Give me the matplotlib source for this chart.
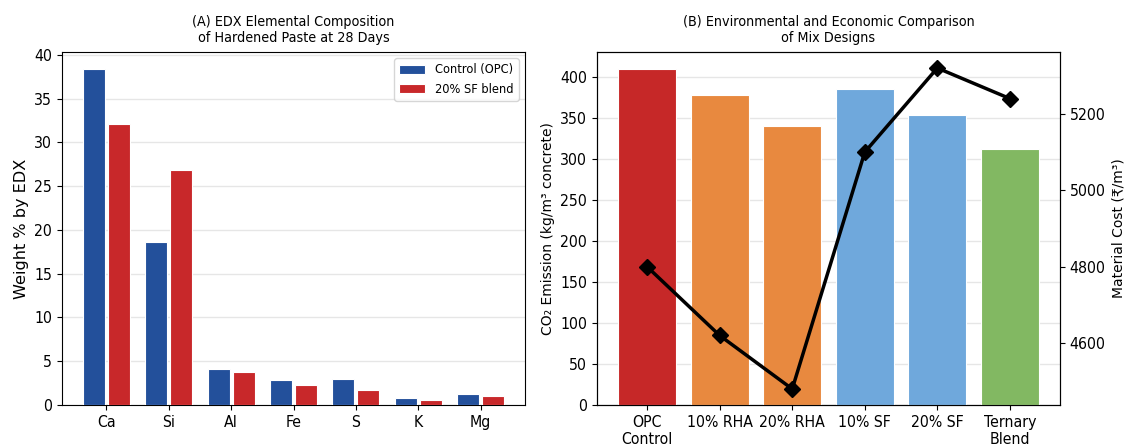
import numpy as np
import matplotlib.pyplot as plt
import matplotlib as mpl

# reference text looks slightly narrow, use the condensed DejaVu face
mpl.rcParams['font.stretch'] = 'condensed'

# Panel A: EDX composition (wt %)
elements = ['Ca', 'Si', 'Al', 'Fe', 'S', 'K', 'Mg']
control_opc = [38.4, 18.6, 4.1, 2.8, 3.0, 0.8, 1.3]
sf_blend = [32.1, 26.8, 3.8, 2.3, 1.7, 0.6, 1.0]

# Panel B: CO2 and cost per mix
mixes = ['OPC\nControl', '10% RHA', '20% RHA', '10% SF', '20% SF', 'Ternary\nBlend']
co2 = [410, 378, 340, 385, 354, 312]
cost = [4800, 4620, 4480, 5100, 5320, 5240]
mix_colors = ['#c62828', '#e8893f', '#e8893f', '#6fa8dc', '#6fa8dc', '#82b862']

W, H = 1126, 446
fig = plt.figure(figsize=(W/100, H/100), dpi=100)
ax1 = fig.add_axes([62/W, 41/H, 463/W, 353/H])
ax2 = fig.add_axes([597/W, 41/H, 463/W, 353/H])

x = np.arange(len(elements))
ax1.bar(x - 0.2, control_opc, 0.35, color='#23509b', edgecolor='white', lw=0.8,
        label='Control (OPC)', zorder=3)
ax1.bar(x + 0.2, sf_blend, 0.35, color='#c8282a', edgecolor='white', lw=0.8,
        label='20% SF blend', zorder=3)
ax1.set_xticks(x)
ax1.set_xticklabels(elements)
ax1.tick_params(labelsize=11.3)
ax1.set_ylabel('Weight % by EDX', fontsize=11.6, fontstretch='normal')
ax1.set_title('(A) EDX Elemental Composition\nof Hardened Paste at 28 Days', fontsize=10.3, pad=7)
ax1.grid(axis='y', color='#e6e6e6', lw=1, zorder=0)
ax1.legend(loc='upper right', fontsize=9.2)

xm = np.arange(len(mixes))
ax2.bar(xm, co2, 0.8, color=mix_colors, edgecolor='white', lw=0.8, zorder=3)
ax2.set_xticks(xm)
ax2.set_xticklabels(mixes)
ax2.tick_params(labelsize=11.3)
ax2.set_ylabel('CO₂ Emission (kg/m³ concrete)', fontsize=10, fontstretch='normal')
ax2.set_title('(B) Environmental and Economic Comparison\nof Mix Designs', fontsize=10.3, pad=7)
ax2.grid(axis='y', color='#e6e6e6', lw=1, zorder=0)

ax3 = ax2.twinx()
ax3.plot(xm, cost, color='black', lw=2.5, marker='D', markersize=8)
ax3.tick_params(labelsize=11.3)
ax3.set_ylabel('Material Cost (₹/m³)', fontsize=10, fontstretch='normal')

plt.savefig('out.png')
